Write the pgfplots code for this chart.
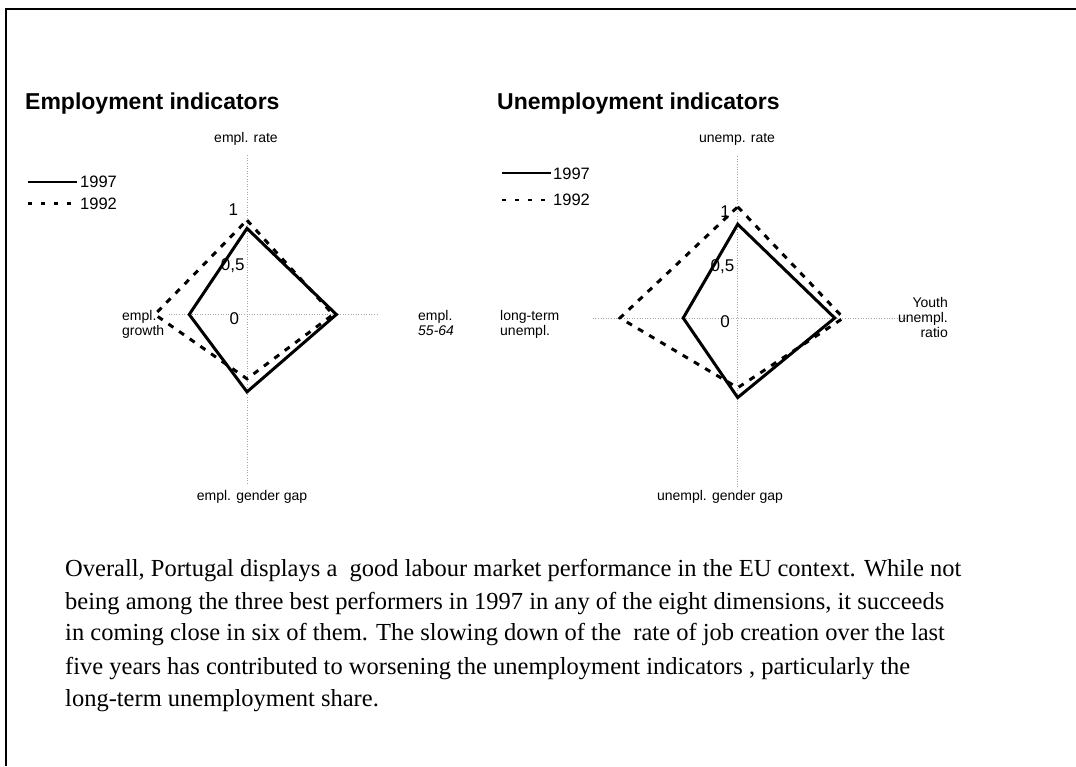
\documentclass[border=0pt]{standalone}
\usepackage{fontspec}
\setmainfont{Liberation Serif}
\newfontfamily\arial{Liberation Sans}
\usepackage{pgfplots}
\pgfplotsset{compat=1.18}
\begin{document}
\begin{tikzpicture}
\path[use as bounding box] (0pt,0pt) rectangle (1076pt,766pt);
\pgfplotsset{radar/.style={scale only axis, width=327pt, height=327pt,
  xmin=-1.5, xmax=1.5, ymin=-1.5, ymax=1.5, hide axis, clip=false, anchor=center}}
\tikzset{s97/.style={black, line width=3pt, line join=miter, no markers},
         s92/.style={black, line width=3pt, dash pattern=on 6pt off 7pt, line join=miter, no markers},
         spoke/.style={gray!70, line width=0.6pt, dotted},
         tick/.style={font=\arial\fontsize{17}{19}\selectfont, anchor=east, inner sep=0pt}}
% Employment indicators
\begin{axis}[radar, at={(247pt,451.5pt)}]
  \draw[spoke] (axis cs:0,-1.55) -- (axis cs:0,1.46);
  \draw[spoke] (axis cs:-0.72,0) -- (axis cs:1.2,0);
  \addplot[s92] coordinates {(0,0.865) (0.79,0) (0,-0.59) (-0.845,0)} -- cycle;
  \addplot[s97] coordinates {(0,0.79) (0.82,0) (0,-0.71) (-0.53,0)} -- cycle;
  \node[tick] at (axis cs:-0.08,0.96) {1};
  \node[tick] at (axis cs:-0.02,0.445) {0,5};
  \node[tick] at (axis cs:-0.07,-0.04) {0};
\end{axis}
% Unemployment indicators
\begin{axis}[radar, at={(737.7pt,448pt)}]
  \draw[spoke] (axis cs:0,-1.55) -- (axis cs:0,1.49);
  \draw[spoke] (axis cs:-1.33,0) -- (axis cs:1.55,0);
  \addplot[s92] coordinates {(0,1.02) (0.97,0) (0,-0.64) (-1.08,0)} -- cycle;
  \addplot[s97] coordinates {(0,0.86) (0.89,0) (0,-0.73) (-0.50,0)} -- cycle;
  \node[tick] at (axis cs:-0.07,0.975) {1};
  \node[tick] at (axis cs:-0.03,0.47) {0,5};
  \node[tick] at (axis cs:-0.07,-0.03) {0};
\end{axis}
\begin{scope}[x=1pt, y=1pt]
  % frame
  \draw[line width=2pt] (5.5,0) -- (5.5,757) -- (1076,757);
  % titles
  \node[anchor=base west, inner sep=0pt, font=\arial\bfseries\fontsize{23}{26}\selectfont] at (25,656) {Employment indicators};
  \node[anchor=base west, inner sep=0pt, font=\arial\bfseries\fontsize{23}{26}\selectfont] at (497,656) {Unemployment indicators};
  % category labels
  \begin{scope}[every node/.style={inner sep=0pt, font=\arial\fontsize{14}{16}\selectfont}]
    \node[anchor=base] at (246,623) {empl. rate};
    \node[anchor=base] at (252,265) {empl. gender gap};
    \node[anchor=base west] at (122,445) {empl.};
    \node[anchor=base west] at (122,430) {growth};
    \node[anchor=base west] at (418,445) {empl.};
    \node[anchor=base west] at (418,430) {\itshape 55-64};
    \node[anchor=base] at (737,623) {unemp. rate};
    \node[anchor=base] at (720,265) {unempl. gender gap};
    \node[anchor=base west] at (500,445) {long-term};
    \node[anchor=base west] at (500,430) {unempl.};
    \node[anchor=base east] at (948,458) {Youth};
    \node[anchor=base east] at (948,443) {unempl.};
    \node[anchor=base east] at (948,428) {ratio};
  \end{scope}
  % legends
  \draw[black, line width=2.2pt] (28,584.3) -- (77,584.3);
  \draw[black, line width=2.6pt, dash pattern=on 4pt off 9pt] (28,562.7) -- (77,562.7);
  \node[anchor=base west, inner sep=0pt, font=\arial\fontsize{16.5}{19}\selectfont] at (80,578) {1997};
  \node[anchor=base west, inner sep=0pt, font=\arial\fontsize{16.5}{19}\selectfont] at (80,556) {1992};
  \draw[black, line width=2.2pt] (502,592.7) -- (551,592.7);
  \draw[black, line width=2.6pt, dash pattern=on 4pt off 9pt] (502,566) -- (551,566);
  \node[anchor=base west, inner sep=0pt, font=\arial\fontsize{16.5}{19}\selectfont] at (553,586) {1997};
  \node[anchor=base west, inner sep=0pt, font=\arial\fontsize{16.5}{19}\selectfont] at (553,560) {1992};
  % paragraph
  \begin{scope}[every node/.style={anchor=base west, inner sep=0pt, font=\fontsize{24.5}{30}\selectfont}]
    \node at (65,189) {Overall, Portugal displays a~ good labour market performance in the EU context. While not};
    \node at (65,157) {being among the three best performers in 1997 in any of the eight dimensions, it succeeds};
    \node at (65,125) {in coming close in six of them. The slowing down of the~ rate of job creation over the last};
    \node at (65,92) {five years has contributed to worsening the unemployment indicators , particularly the};
    \node at (65,60) {long-term unemployment share.};
  \end{scope}
\end{scope}
\end{tikzpicture}
\end{document}
